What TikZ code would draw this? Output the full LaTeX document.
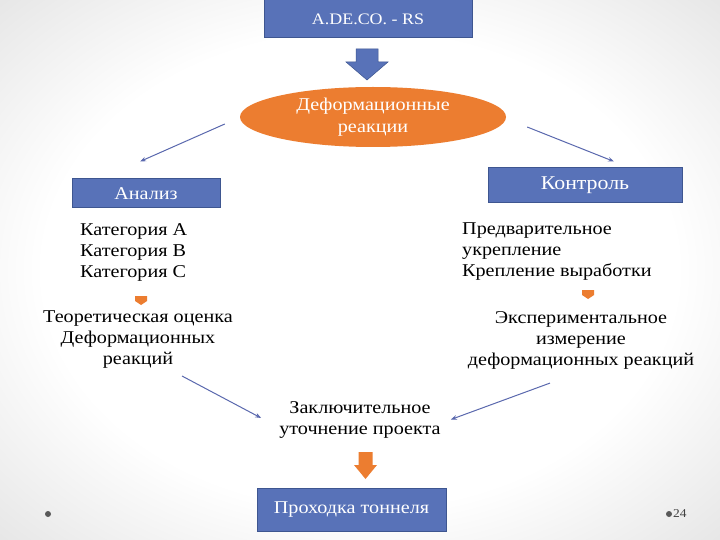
\documentclass[tikz,border=0pt]{standalone}
\usepackage{fontspec}
\setmainfont{Liberation Serif}[FakeStretch=1.12]
\usetikzlibrary{arrows.meta,shapes.geometric}
\definecolor{boxblue}{HTML}{5872B8}
\definecolor{boxedge}{HTML}{3E5690}
\definecolor{linkblue}{HTML}{5A68AE}
\definecolor{blockorange}{HTML}{EC7D30}
\pgfdeclareradialshading{slideback}{\pgfpoint{0bp}{0bp}}{color(0bp)=(white); color(22bp)=(white); color(50bp)=(black!20)}
\newcommand{\bodyfont}{\fontsize{18}{21}\selectfont}
\newcommand{\boxfont}[1]{\fontsize{#1}{22}\selectfont}
% block arrow pointing down: style, centre x, top y, shaft half, head half, shaft end y, tip y
\newcommand{\downblock}[7]{%
  \path[#1] (#2-#4,#3) -- (#2+#4,#3) -- (#2+#4,#6) -- (#2+#5,#6) -- (#2,#7)
    -- (#2-#5,#6) -- (#2-#4,#6) -- cycle;}
\begin{document}
\begin{tikzpicture}[x=1pt,y=-1pt,
  bluebox/.style={rectangle,draw=boxedge,line width=1pt,fill=boxblue,text=white},
  link/.style={draw=linkblue,line width=1pt,-{Stealth[length=6pt,width=4.5pt]}},
  plain/.style={font=\bodyfont,inner sep=2pt}]
\def\x{0}
\def\y{0}
\useasboundingbox (\x,\y) rectangle (720,540);
\shade[shading=slideback] (\x,\y) rectangle (720,540);
% top of the scheme
\node[bluebox,minimum width=208pt,minimum height=38pt,font=\boxfont{16}] (adeco) at (368,19) {A.DE.CO. - RS};
\downblock{fill=boxblue,draw=boxedge,line width=0.5pt}{367}{49}{11}{21}{62}{80}
\node[ellipse,fill=blockorange,minimum width=266pt,minimum height=60pt,align=center,text=white,font=\boxfont{18},inner sep=0pt] (deform) at (373,117) {Деформационные\\реакции};
% two branches
\node[bluebox,minimum width=148pt,minimum height=29pt,font=\boxfont{18}] (analiz) at (146,193.5) {Анализ};
\node[bluebox,minimum width=194pt,minimum height=35pt,font=\boxfont{19.5}] (kontrol) at (585,185.5) {Контроль};
\node[plain,anchor=north west] (cats) at (78,219) {
\begin{tabular}{@{}l@{}}
Категория A \\
Категория B \\
Категория C
\end{tabular}
};
\node[plain,anchor=north west] (ukrep) at (460,218) {
\begin{tabular}{@{}l@{}}
Предварительное \\
укрепление \\
Крепление выработки
\end{tabular}
};
\downblock{fill=blockorange}{141}{296}{6}{6}{301}{305}
\downblock{fill=blockorange}{588}{290}{6}{6}{295}{299}
\node[plain,align=center] (teor) at (138,340) {Теоретическая оценка\\Деформационных\\реакций};
\node[plain,align=center] (exper) at (581,340) {Экспериментальное\\измерение\\деформационных реакций};
% bottom of the scheme
\node[plain,align=center] (final) at (360,419.5) {Заключительное\\уточнение проекта};
\downblock{fill=blockorange}{365.5}{452}{7}{11.5}{465}{479}
\node[bluebox,minimum width=189pt,minimum height=43pt,font=\boxfont{18}] (prohod) at (351.5,509.5) {Проходка тоннеля};
\draw[link] ([shift={(-15,7)}]deform.west) -- ([shift={(-6,-17)}]analiz.north);
\draw[link] ([shift={(21,10)}]deform.east) -- ([shift={(29,-6)}]kontrol.north);
\draw[link] ([shift={(44,5)}]teor.south) -- ([shift={(-16,-1.5)}]final.west);
\draw[link] ([shift={(-31,12)}]exper.south) -- ([shift={(8,0)}]final.east);
% page marks
\fill[black!65] (48,514) circle (3pt) coordinate (dotleft);
\fill[black!65] (669,514) circle (3pt) coordinate (dotright);
\node[anchor=west,inner sep=0pt,text=black!75,font=\fontsize{12}{14}\selectfont] (pagenum) at (673,514) {24};
\end{tikzpicture}
\end{document}
